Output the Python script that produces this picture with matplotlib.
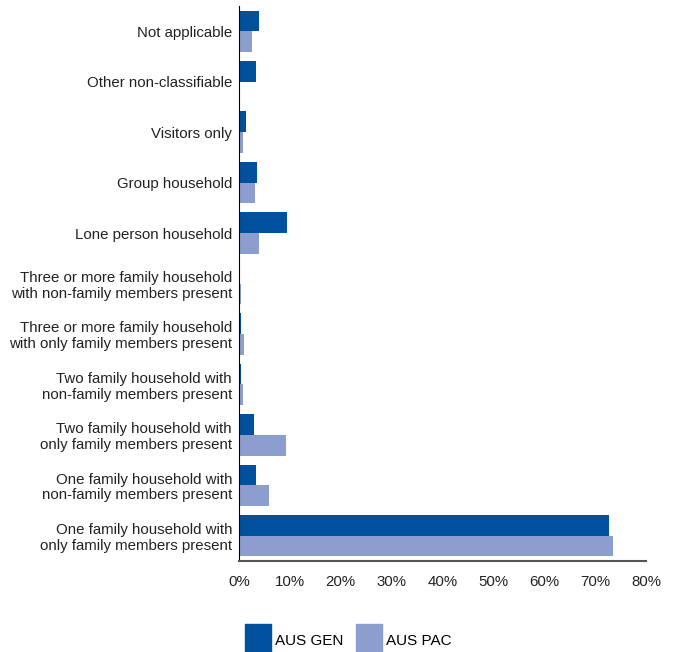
import matplotlib.pyplot as plt
import matplotlib.patches as mpatches
from matplotlib.ticker import PercentFormatter

categories = [
    "One family household with\nonly family members present",
    "One family household with\nnon-family members present",
    "Two family household with\nonly family members present",
    "Two family household with\nnon-family members present",
    "Three or more family household\nwith only family members present",
    "Three or more family household\nwith non-family members present",
    "Lone person household",
    "Group household",
    "Visitors only",
    "Other non-classifiable",
    "Not applicable",
]
aus_gen = [72.8, 3.3, 2.9, 0.3, 0.3, 0.1, 9.4, 3.5, 1.3, 3.3, 3.9]
aus_pac = [73.5, 5.8, 9.2, 0.7, 0.9, 0.3, 3.9, 3.1, 0.7, 0.1, 2.5]
xticks = [0, 10, 20, 30, 40, 50, 60, 70, 80]

gen_color = "#00509d"
pac_color = "#8b9ece"

plt.rcParams['font.family'] = ['Liberation Sans', 'DejaVu Sans']

def main():
    fig = plt.figure(figsize=(6.78, 6.52), dpi=100)
    ax = fig.add_axes([239 / 678, 1 - 561 / 652, (646 - 239) / 678, (561 - 6) / 652])

    y = list(range(len(categories)))
    h = 0.41
    ax.barh([i + h / 2 for i in y], aus_gen, height=h, color=gen_color, label="AUS GEN")
    ax.barh([i - h / 2 for i in y], aus_pac, height=h, color=pac_color, label="AUS PAC")

    ax.set_ylim(-0.5, len(categories) - 0.5)
    ax.set_xlim(0, 80)
    ax.set_yticks(y)
    ax.set_yticklabels(categories, color="#222222", linespacing=1.15)
    ax.set_xticks(xticks)
    ax.xaxis.set_major_formatter(PercentFormatter(decimals=0))
    ax.tick_params(axis="both", length=0, labelsize=10.8, colors="#222222")
    ax.tick_params(axis="x", pad=10)
    ax.tick_params(axis="y", pad=5)

    for s in ["top", "right"]:
        ax.spines[s].set_visible(False)
    ax.spines["left"].set_color("black")
    ax.spines["bottom"].set_color("#555555")
    ax.spines["bottom"].set_linewidth(1.5)

    handles = [mpatches.Patch(color=gen_color, label="AUS GEN"),
               mpatches.Patch(color=pac_color, label="AUS PAC")]
    fig.legend(handles=handles, loc="upper left", bbox_to_anchor=(231 / 678, 1 - 610 / 652),
               ncol=2, frameon=False, fontsize=11, handlelength=1.7, handleheight=3.0,
               columnspacing=0.8, handletextpad=0.3)

    fig.savefig("out.png", dpi=100)


if __name__ == "__main__":
    main()
